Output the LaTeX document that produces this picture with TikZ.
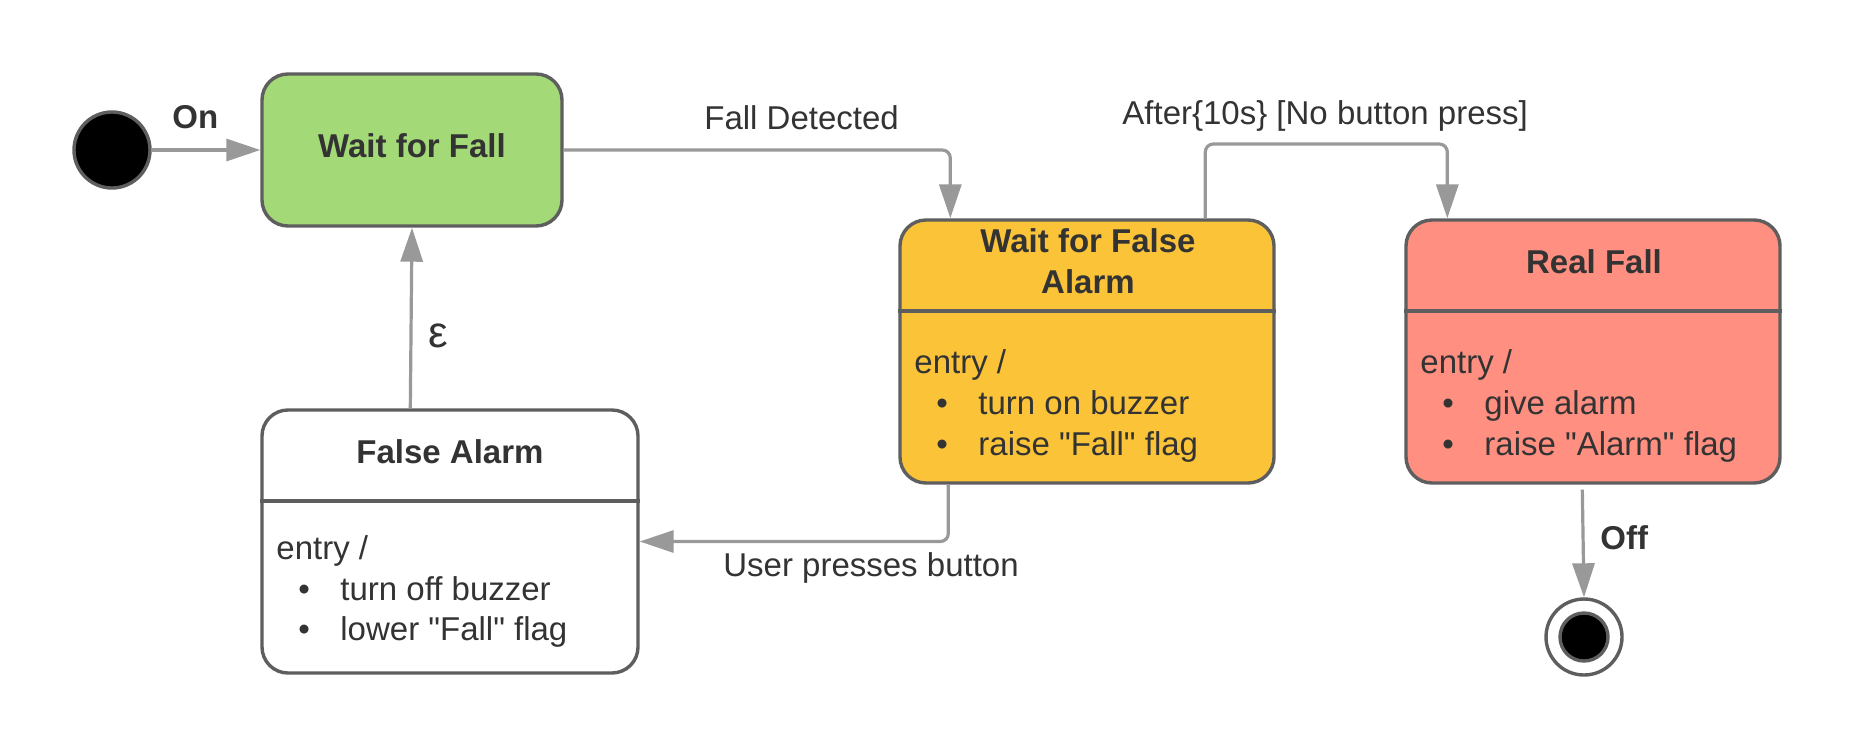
\documentclass[tikz,border=0pt]{standalone}
\usepackage{fontspec}
\setmainfont{Liberation Sans}
\usetikzlibrary{arrows.meta,calc}
\definecolor{bordergray}{HTML}{5E5E5E}
\definecolor{arrowgray}{HTML}{999999}
\definecolor{txt}{HTML}{333333}
\definecolor{stgreen}{HTML}{A3D977}
\definecolor{styellow}{HTML}{FBC338}
\definecolor{stred}{HTML}{FF8F80}
\begin{document}
\begin{tikzpicture}[x=0.5pt,y=-0.5pt,
  statebox/.style={draw=bordergray, line width=1.7pt, rounded corners=13pt, inner sep=0pt},
  divider/.style={draw=bordergray, line width=1.7pt},
  conn/.style={draw=arrowgray, line width=1.6pt, -{Triangle[length=17pt,width=11pt]}, rounded corners=4pt},
  lbl/.style={text=txt, font=\fontsize{16.5}{20}\selectfont, inner sep=0pt, anchor=base west},
  ttl/.style={text=txt, font=\fontsize{16.5}{20}\selectfont\bfseries, inner sep=0pt, anchor=base},
  blbl/.style={text=txt, font=\fontsize{16.5}{20}\selectfont\bfseries, inner sep=0pt, anchor=base west}
]
\fill[white] (0,0) rectangle (1856,750);
\useasboundingbox (0,0) rectangle (1856,750);

% initial and final states
\node[circle, fill=black, draw=bordergray, line width=1.7pt, minimum size=38pt, inner sep=0pt] (init) at (112,150) {};
\node[circle, fill=white, draw=bordergray, line width=1.7pt, minimum size=38pt, inner sep=0pt] (fin) at (1584,637) {};
\node[circle, fill=black, draw=bordergray, line width=1.7pt, minimum size=24pt, inner sep=0pt] (fininner) at (1584,637) {};

% Wait for Fall
\node[statebox, fill=stgreen, minimum width=150pt, minimum height=76pt] (wff) at (412,150) {};
\node[ttl] (wfft) at (412,157) {Wait for Fall};

% Wait for False Alarm
\node[statebox, fill=styellow, minimum width=187pt, minimum height=131.5pt] (wffa) at (1087,351.5) {};
\draw[divider] (wffa.west |- 0,311) -- (wffa.east |- 0,311);
\node[ttl] (wffat1) at (1088,252) {Wait for False};
\node[ttl] (wffat2) at (1088,293) {Alarm};
\node[lbl] (wffae) at (914,373) {entry /};
\node[lbl] (wffab1) at (936,414) {•};
\node[lbl] (wffai1) at (978,414) {turn on buzzer};
\node[lbl] (wffab2) at (936,455) {•};
\node[lbl] (wffai2) at (978,455) {raise \textquotedbl Fall\textquotedbl{} flag};

% Real Fall
\node[statebox, fill=stred, minimum width=187pt, minimum height=131.5pt] (rf) at (1593,351.5) {};
\draw[divider] (rf.west |- 0,311) -- (rf.east |- 0,311);
\node[ttl] (rft) at (1594,273) {Real Fall};
\node[lbl] (rfe) at (1420,373) {entry /};
\node[lbl] (rfb1) at (1442,414) {•};
\node[lbl] (rfi1) at (1484,414) {give alarm};
\node[lbl] (rfb2) at (1442,455) {•};
\node[lbl] (rfi2) at (1484,455) {raise \textquotedbl Alarm\textquotedbl{} flag};

% False Alarm
\node[statebox, fill=white, minimum width=188pt, minimum height=131.5pt] (fa) at (450,541.5) {};
\draw[divider] (fa.west |- 0,501) -- (fa.east |- 0,501);
\node[ttl] (fat) at (450,463) {False Alarm};
\node[lbl] (fae) at (276,559) {entry /};
\node[lbl] (fab1) at (298,600) {•};
\node[lbl] (fai1) at (340,600) {turn off buzzer};
\node[lbl] (fab2) at (298,640) {•};
\node[lbl] (fai2) at (340,640) {lower \textquotedbl Fall\textquotedbl{} flag};

% connectors
\draw[conn] (init) -- (wff);
\node[blbl] (lon) at (172,128) {On};

\draw[conn] (wff.east) -| ($(wffa.north west)+(52,0)$);
\node[lbl] (lfd) at (704,129) {Fall Detected};

\coordinate (atop) at (1328,144);
\draw[conn] ($(wffa.north west)+(307,0)$) |- (atop) -| ($(rf.north west)+(43,0)$);
\node[lbl] (lafter) at (1122,124) {After\{10s\} [No button press]};

\draw[conn] ($(wffa.south west)+(50,0)$) |- (fa.east);
\node[lbl] (luser) at (723,576) {User presses button};

\draw[conn] ($(fa.north west)+(150,0)$) -- (wff.south);
\node[lbl, font=\fontsize{22}{26}\selectfont] (leps) at (428,347) {ε};

\draw[conn] ($(rf.south west)+(178,5)$) -- (fin.north);
\node[blbl] (loff) at (1600,549) {Off};
\end{tikzpicture}
\end{document}
